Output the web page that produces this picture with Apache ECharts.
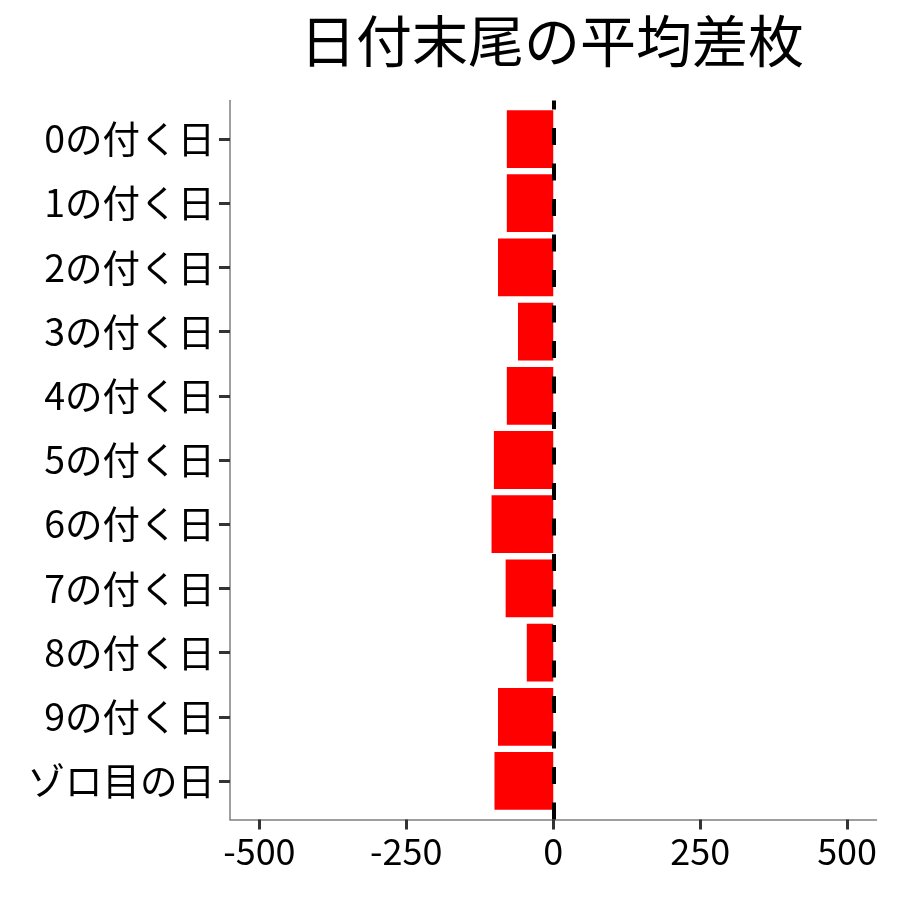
<!DOCTYPE html>
<html>
<head>
<meta charset="utf-8">
<script src="https://cdn.jsdelivr.net/npm/echarts@6/dist/echarts.min.js"></script>
<style>html,body{margin:0;padding:0;background:#fff}#c{width:900px;height:900px}</style>
</head>
<body>
<div id="c"></div>
<script>
const titleText = '日付末尾の平均差枚';
const categories = ['0の付く日','1の付く日','2の付く日','3の付く日','4の付く日','5の付く日','6の付く日','7の付く日','8の付く日','9の付く日','ゾロ目の日'];
const avgDiff = [-79, -79, -94, -60, -79, -101, -105, -81, -45, -94, -100];
const xTickMin = -500, xTickMax = 500, xTickStep = 250;
const xMin = -550, xMax = 550;
const refLine = 0;

const FONT = '"Noto Sans CJK JP", "Noto Sans", sans-serif';
// plot frame in pixels
const L = 230, R = 876.5, T = 100.5, B = 819.5;
const pxPerUnit = (R - L) / (xMax - xMin);
const tickLeft = L + (xTickMin - xMin) * pxPerUnit;
const tickRight = R - (xMax - xTickMax) * pxPerUnit;
// discrete axis expansion 0.6 band each side
const band = (B - T) / (categories.length - 1 + 1.2);
const catTop = T + 0.1 * band, catBottom = B - 0.1 * band;

const chart = echarts.init(document.getElementById('c'), null, {renderer: 'canvas'});
chart.setOption({
  backgroundColor: '#ffffff',
  animation: false,
  title: {
    text: titleText,
    left: 547, top: 8,
    textAlign: 'center',
    textStyle: {fontFamily: FONT, fontSize: 56, fontWeight: 'normal', color: '#000'}
  },
  grid: [
    {left: L, right: 900 - R, top: T, bottom: 900 - B, containLabel: false},
    {left: L, right: 900 - R, top: catTop, bottom: 900 - catBottom, containLabel: false},
    {left: tickLeft, right: 900 - tickRight, top: T, bottom: 900 - B, containLabel: false}
  ],
  xAxis: [
    {
      gridIndex: 0, type: 'value', min: xMin, max: xMax,
      splitLine: {show: false},
      axisLine: {show: true, onZero: false, lineStyle: {color: '#7f7f7f', width: 1.5}},
      axisTick: {show: false}, axisLabel: {show: false}
    },
    {
      gridIndex: 1, type: 'value', min: xMin, max: xMax,
      show: false, splitLine: {show: false}
    },
    {
      gridIndex: 2, type: 'value', min: xTickMin, max: xTickMax, interval: xTickStep,
      splitLine: {show: false},
      axisLine: {show: false, onZero: false},
      axisTick: {show: true, length: 10, lineStyle: {color: '#333', width: 3}},
      axisLabel: {show: true, margin: 14, fontFamily: FONT, fontSize: 36, color: '#000', formatter: v => String(v)}
    }
  ],
  yAxis: [
    {
      gridIndex: 0, type: 'category', data: categories,
      axisLine: {show: true, onZero: false, lineStyle: {color: '#7f7f7f', width: 1.5}},
      axisTick: {show: false}, axisLabel: {show: false}, splitLine: {show: false}
    },
    {
      gridIndex: 1, type: 'category', data: categories, inverse: true,
      axisLine: {show: false, onZero: false},
      axisTick: {show: true, alignWithLabel: true, interval: 0, length: 11, lineStyle: {color: '#333', width: 3}},
      axisLabel: {show: true, interval: 0, margin: 15, fontFamily: FONT, fontSize: 37.5, color: '#000'},
      splitLine: {show: false}
    },
    {
      gridIndex: 2, type: 'category', data: categories, show: false
    }
  ],
  series: [
    {
      type: 'bar', xAxisIndex: 1, yAxisIndex: 1,
      data: avgDiff, barWidth: '90%',
      itemStyle: {color: '#ff0000'}
    },
    {
      type: 'line', xAxisIndex: 0, yAxisIndex: 0, data: [],
      markLine: {
        silent: true, symbol: ['none','none'],
        label: {show: false},
        lineStyle: {color: '#000', width: 4, type: [17, 18.5]},
        data: [{xAxis: refLine}]
      }
    }
  ]
});
</script>
</body>
</html>
